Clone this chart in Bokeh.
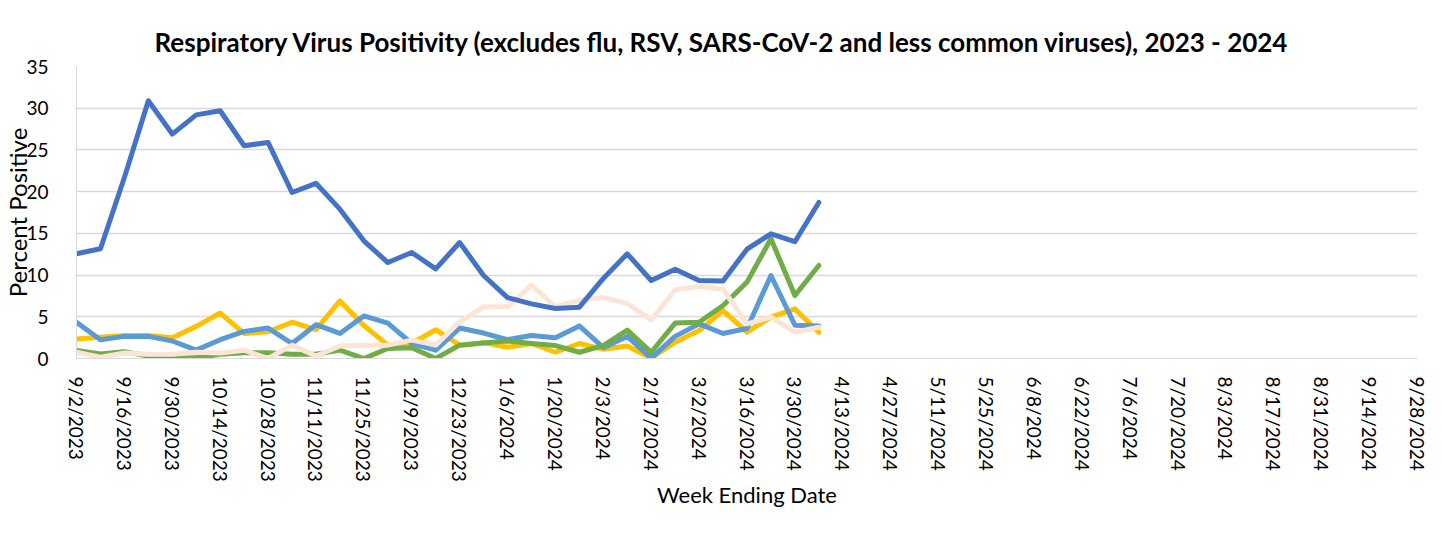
import pandas as pd
from bokeh.plotting import figure
from bokeh.models import Range1d, FixedTicker, Legend, LegendItem
from bokeh.embed import file_html
from bokeh.resources import INLINE

# ---- data -------------------------------------------------------------
week_labels = [f"{d.month}/{d.day}/{d.year}" for d in pd.date_range("2023-09-02", "2024-09-28", freq="7D")]

parainfluenza = [2.35, 2.55, 2.75, 2.75, 2.5, 3.85, 5.45, 3.0, 3.2, 4.35, 3.45, 6.9, 3.95, 1.6, 1.8, 3.45,
                 1.6, 1.9, 1.35, 1.8, 0.75, 1.8, 1.1, 1.5, 0.05, 1.95, 3.35, 5.75, 3.15, 4.95, 5.95, 3.15]
adenovirus = [4.35, 2.25, 2.65, 2.65, 2.1, 1.0, 2.25, 3.25, 3.65, 1.8, 4.05, 3.0, 5.1, 4.25, 1.8, 1.0,
              3.65, 3.05, 2.25, 2.75, 2.5, 3.9, 1.3, 2.65, 0.05, 2.65, 4.15, 3.0, 3.6, 9.95, 4.0, 3.9]
metapneumovirus = [0.95, 0.55, 0.8, 0.3, 0.1, 0.1, 0.5, 0.7, 0.7, 0.5, 0.5, 1.0, 0.0, 1.2, 1.3, 0.0,
                   1.6, 1.85, 2.1, 1.8, 1.55, 0.75, 1.55, 3.4, 0.75, 4.25, 4.35, 6.35, 9.15, 14.35, 7.55, 11.15]
coronavirus = [0.75, 0.15, 0.65, 0.5, 0.5, 0.75, 0.65, 1.0, 0.0, 1.6, 0.3, 1.5, 1.6, 1.6, 2.2, 1.6,
               4.4, 6.2, 6.2, 8.8, 6.2, 7.0, 7.3, 6.6, 4.6, 8.25, 8.65, 8.3, 4.15, 4.95, 3.15, 3.75]
rhinovirus = [12.55, 13.15, 21.7, 30.9, 26.9, 29.2, 29.7, 25.5, 25.9, 19.9, 21.0, 17.9, 14.1, 11.5, 12.7, 10.75,
              13.9, 9.95, 7.3, 6.55, 6.0, 6.15, 9.6, 12.55, 9.35, 10.7, 9.35, 9.3, 13.1, 14.95, 14.0, 18.7]

series_names = ["% Parainfluenza Virus", "% Adenovirus", "% Human Metapneumovirus",
                "% Coronavirus", "% Rhinovirus/Enterovirus"]
series_values = [parainfluenza, adenovirus, metapneumovirus, coronavirus, rhinovirus]
series_colors = ["#FFC000", "#5B9BD5", "#70AD47", "#FBE5D6", "#4472C4"]

title_text = "Respiratory Virus Positivity (excludes flu, RSV, SARS-CoV-2 and less common viruses), 2023 - 2024"
FONT = "Lato"

# ---- figure -----------------------------------------------------------
p = figure(frame_width=1341, frame_height=292, output_backend="svg", toolbar_location=None,
           x_range=Range1d(0, len(week_labels) - 1), y_range=Range1d(0, 35),
           min_border_left=69, min_border_right=16, min_border_top=66, min_border_bottom=0)
p.outline_line_color = None
p.background_fill_color = "white"

p.title.text = title_text
p.title.align = "left"
p.title.offset = 78
p.title.text_font = FONT
p.title.text_font_size = "26px"
p.title.text_font_style = "bold"
p.title.text_color = "black"
p.title.standoff = 18

# axes
xa = p.xaxis[0]
xa.ticker = FixedTicker(ticks=list(range(0, len(week_labels), 2)))
xa.major_label_overrides = {i: week_labels[i] for i in range(0, len(week_labels), 2)}
xa.major_label_orientation = "vertical"
xa.major_label_text_font = FONT
xa.major_label_text_font_size = "19px"
xa.major_label_text_color = "black"
xa.major_label_standoff = 12
xa.major_tick_line_color = None
xa.minor_tick_line_color = None
xa.axis_line_color = "#D9D9D9"
xa.axis_label = "Week Ending Date"
xa.axis_label_text_font = FONT
xa.axis_label_text_font_size = "22px"
xa.axis_label_text_font_style = "normal"
xa.axis_label_text_color = "black"
xa.axis_label_standoff = -4

ya = p.yaxis[0]
ya.ticker = FixedTicker(ticks=[0, 5, 10, 15, 20, 25, 30, 35])
ya.major_label_text_font = FONT
ya.major_label_text_font_size = "19px"
ya.major_label_text_color = "black"
ya.major_label_standoff = 22
ya.major_tick_line_color = None
ya.minor_tick_line_color = None
ya.axis_line_color = "#D9D9D9"
ya.axis_label = "Percent Positive"
ya.axis_label_text_font = FONT
ya.axis_label_text_font_size = "24px"
ya.axis_label_text_font_style = "normal"
ya.axis_label_text_color = "black"
ya.axis_label_standoff = -9

p.xgrid.grid_line_color = None
p.ygrid.grid_line_color = "#D9D9D9"
p.ygrid.grid_line_width = 1.5

# lines
items = []
for name, vals, col in zip(series_names, series_values, series_colors):
    r = p.line(list(range(len(vals))), vals, line_color=col, line_width=5,
               line_join="round", line_cap="round")
    items.append(LegendItem(label=name, renderers=[r]))

legend = Legend(items=items, orientation="horizontal", location="top_center",
                label_text_font=FONT, label_text_font_size="21px", label_text_color="black",
                glyph_width=55, glyph_height=16, label_height=16, label_standoff=3, spacing=22,
                padding=0, margin=8, border_line_color=None, background_fill_alpha=0)
p.add_layout(legend, "below")

open("out.html", "w").write(file_html(p, INLINE))
